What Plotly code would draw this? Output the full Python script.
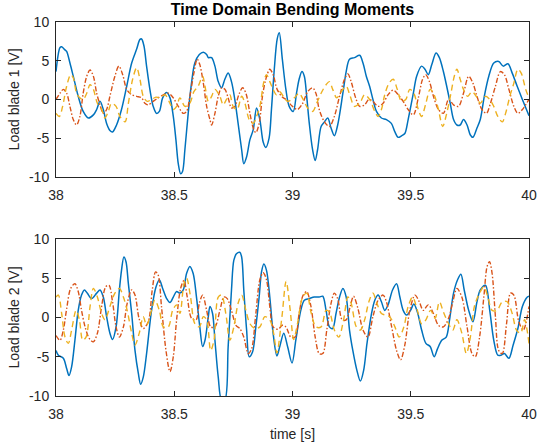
import plotly.graph_objects as go
from plotly.subplots import make_subplots

# ---------------- data ----------------
# Panel 1: load blade 1
t1_blue = [38.000, 38.017, 38.024, 38.038, 38.045, 38.059, 38.073, 38.094, 38.115, 38.137,
           38.158, 38.172, 38.186, 38.200, 38.214, 38.228, 38.239, 38.256, 38.277, 38.299,
           38.320, 38.341, 38.355, 38.362, 38.372, 38.383, 38.397, 38.411, 38.425, 38.437,
           38.451, 38.468, 38.482, 38.496, 38.507, 38.517, 38.527, 38.535, 38.545, 38.559,
           38.573, 38.587, 38.606, 38.623, 38.637, 38.644, 38.658, 38.672, 38.686, 38.700,
           38.714, 38.728, 38.742, 38.756, 38.770, 38.785, 38.794, 38.806, 38.820, 38.834,
           38.848, 38.862, 38.876, 38.887, 38.901, 38.911, 38.923, 38.935, 38.944, 38.957,
           38.972, 38.986, 39.003, 39.017, 39.028, 39.040, 39.050, 39.060, 39.071, 39.085,
           39.096, 39.106, 39.121, 39.135, 39.149, 39.163, 39.177, 39.191, 39.213, 39.227,
           39.241, 39.262, 39.284, 39.298, 39.312, 39.326, 39.340, 39.355, 39.376, 39.397,
           39.418, 39.433, 39.447, 39.461, 39.475, 39.489, 39.511, 39.525, 39.546, 39.560,
           39.574, 39.589, 39.607, 39.621, 39.638, 39.652, 39.667, 39.681, 39.695, 39.709,
           39.723, 39.738, 39.752, 39.763, 39.780, 39.794, 39.811, 39.830, 39.851, 39.872,
           39.891, 39.911, 39.929, 39.950, 39.972, 40.000]
v1_blue = [3.6, 6.7, 6.8, 6.4, 6.2, 4.7, 3.0, 0.4, -1.55, -2.4,
           -2.0, -1.3, -0.25, -1.3, -3.1, -4.0, -4.2, -3.3, -1.3, 1.7,
           4.7, 6.5, 7.75, 7.8, 6.9, 4.3, 1.3, -0.9, -1.8, -1.55,
           0.2, 0.9, 0.2, -2.2, -5.2, -8.3, -9.6, -9.3, -6.5, -1.8,
           2.1, 4.7, 5.8, 6.1, 5.8, 5.4, 5.4, 4.3, 2.3, 1.5,
           2.6, 3.4, 2.3, 0.0, -3.1, -6.5, -8.3, -7.4, -5.2, -3.9,
           -1.1, -2.6, -5.5, -6.2, -5.0, -1.3, 3.9, 7.75, 8.6, 5.2,
           1.3, -0.9, -1.55, 0.8, 2.6, 3.6, 3.0, 0.4, -3.1, -6.5,
           -7.9, -6.5, -3.5, -2.9, -2.4, -3.7, -4.7, -3.3, 0.8, 3.6,
           5.2, 5.4, 5.7, 4.7, 3.0, 1.7, 0.0, -1.55, -2.4, -2.6,
           -3.1, -4.2, -4.9, -4.7, -4.4, -2.6, 0.8, 3.0, 4.3, 3.9,
           3.2, 4.5, 6.0, 5.4, 3.6, 1.7, -0.5, -2.6, -3.3, -3.3,
           -2.6, -3.3, -4.6, -4.9, -3.7, -2.6, 0.4, 3.0, 4.7, 4.9,
           4.3, 4.6, 3.4, 1.7, 0.0, -2.1]

t1_orange = [38.000, 38.017, 38.031, 38.045, 38.059, 38.073, 38.087, 38.101, 38.115, 38.130,
             38.144, 38.158, 38.172, 38.186, 38.200, 38.214, 38.228, 38.249, 38.266, 38.282,
             38.299, 38.320, 38.341, 38.362, 38.376, 38.390, 38.411, 38.432, 38.454, 38.475,
             38.496, 38.517, 38.538, 38.552, 38.566, 38.583, 38.597, 38.608, 38.623, 38.637,
             38.651, 38.658, 38.672, 38.686, 38.700, 38.714, 38.728, 38.742, 38.756, 38.773,
             38.789, 38.803, 38.820, 38.834, 38.845, 38.859, 38.873, 38.887, 38.904, 38.918,
             38.935, 38.957, 38.972, 39.000, 39.021, 39.043, 39.064, 39.085, 39.099, 39.113,
             39.135, 39.156, 39.177, 39.199, 39.220, 39.234, 39.248, 39.267, 39.284, 39.305,
             39.323, 39.340, 39.362, 39.383, 39.404, 39.426, 39.447, 39.468, 39.489, 39.511,
             39.532, 39.550, 39.563, 39.579, 39.596, 39.617, 39.638, 39.660, 39.681, 39.702,
             39.723, 39.745, 39.763, 39.780, 39.801, 39.820, 39.837, 39.858, 39.879, 39.896,
             39.915, 39.936, 39.953, 39.972, 40.000]
v1_orange = [0.0, 0.8, 1.3, 0.8, -0.9, -2.6, -3.3, -2.2, 0.8, 3.0,
             3.8, 3.0, 0.8, -0.7, -1.8, -1.3, 0.4, 3.0, 4.3, 3.2,
             1.3, 0.6, 0.4, 0.2, -0.5, -0.7, -0.25, 0.2, 0.6, 0.8,
             0.2, -0.9, -1.8, -1.55, 0.4, 3.4, 5.2, 4.5, 2.1, -0.9,
             -2.6, -3.3, -1.8, 0.4, 1.5, 1.3, 0.2, -1.1, -0.9, 0.6,
             1.5, 0.8, -1.8, -3.7, -4.3, -3.1, 0.4, 2.6, 3.9, 3.2,
             1.3, 0.3, 0.0, -0.9, -1.3, -0.5, 1.0, 1.5, 0.8, -1.3,
             -2.9, -3.5, -2.2, 0.4, 2.6, 3.3, 2.3, 0.2, -0.9, -0.7,
             0.0, -0.25, -0.9, -0.5, 0.6, 1.2, 0.6, -0.25, -1.3, -2.0,
             0.2, 2.6, 3.2, 2.3, 0.4, -1.3, -1.8, 0.0, -0.7, -0.9,
             0.8, 3.0, 2.1, 0.4, -1.3, -1.8, -0.5, 1.7, 3.6, 3.2,
             1.3, -0.9, -1.8, -1.3, 0.0]

t1_yellow = [38.000, 38.014, 38.028, 38.045, 38.062, 38.073, 38.087, 38.101, 38.115, 38.130,
             38.144, 38.158, 38.175, 38.193, 38.207, 38.221, 38.235, 38.254, 38.270, 38.292,
             38.306, 38.324, 38.341, 38.355, 38.369, 38.386, 38.404, 38.423, 38.439, 38.461,
             38.482, 38.496, 38.510, 38.524, 38.545, 38.566, 38.583, 38.601, 38.620, 38.630,
             38.644, 38.658, 38.672, 38.693, 38.707, 38.721, 38.735, 38.749, 38.766, 38.785,
             38.799, 38.817, 38.834, 38.848, 38.862, 38.879, 38.890, 38.904, 38.918, 38.932,
             38.946, 38.965, 38.979, 39.007, 39.028, 39.045, 39.064, 39.085, 39.102, 39.121,
             39.142, 39.156, 39.170, 39.187, 39.206, 39.227, 39.244, 39.262, 39.284, 39.305,
             39.326, 39.348, 39.362, 39.376, 39.390, 39.408, 39.426, 39.443, 39.461, 39.479,
             39.496, 39.513, 39.532, 39.546, 39.564, 39.582, 39.599, 39.617, 39.635, 39.652,
             39.670, 39.684, 39.695, 39.709, 39.723, 39.740, 39.759, 39.777, 39.794, 39.816,
             39.834, 39.851, 39.868, 39.887, 39.901, 39.919, 39.936, 39.953, 39.967, 39.986,
             40.000]
v1_yellow = [-1.8, -2.2, -0.9, 1.7, 3.2, 2.8, 0.8, 0.2, 0.0, 0.8,
             1.9, 1.3, -0.5, -1.3, -2.4, -1.55, -0.5, -0.9, -2.2, -2.9,
             -0.5, 2.6, 4.1, 2.6, 0.4, -0.25, 0.0, 0.3, 0.2, 0.6,
             -0.5, -1.3, -0.9, 0.2, -0.9, -0.5, 1.0, 1.7, 3.0, 1.7,
             -0.25, 0.4, 1.3, 0.4, -0.7, 0.0, 0.6, -0.9, -1.3, 0.4,
             -0.5, -2.6, -3.1, -2.2, -0.9, 2.3, 3.2, 2.3, 1.3, 0.6,
             1.0, 0.2, -0.25, 0.2, 0.8, 0.0, -1.1, -1.55, -0.5, 0.8,
             1.9, 2.3, 1.3, 0.2, 1.0, 1.7, 0.4, -0.9, -0.5, 0.6,
             0.0, -1.55, -2.2, -1.3, 0.6, 2.1, 2.6, 1.3, -0.25, 0.0,
             1.3, 0.8, -1.3, -2.2, -0.5, 1.3, 0.6, -1.3, -3.5, -1.8,
             0.8, 3.0, 3.9, 2.6, 1.3, 0.4, 1.0, 0.4, -0.5, 0.4,
             0.0, -0.9, -2.2, -2.9, -1.8, 0.4, 2.1, 3.9, 3.4, 1.3,
             0.2]

# Panel 2: load blade 2
t2_blue = [38.000, 38.010, 38.031, 38.045, 38.055, 38.066, 38.080, 38.094, 38.108, 38.120,
           38.132, 38.151, 38.172, 38.186, 38.200, 38.214, 38.228, 38.239, 38.254, 38.268,
           38.277, 38.287, 38.296, 38.306, 38.320, 38.334, 38.348, 38.358, 38.369, 38.383,
           38.404, 38.423, 38.437, 38.451, 38.468, 38.482, 38.496, 38.510, 38.524, 38.538,
           38.552, 38.566, 38.580, 38.594, 38.608, 38.620, 38.630, 38.644, 38.651, 38.662,
           38.672, 38.686, 38.700, 38.714, 38.728, 38.742, 38.752, 38.763, 38.777, 38.785,
           38.794, 38.806, 38.817, 38.831, 38.845, 38.859, 38.869, 38.879, 38.890, 38.904,
           38.918, 38.934, 38.947, 38.963, 38.980, 38.998, 39.014, 39.035, 39.050, 39.071,
           39.092, 39.113, 39.128, 39.142, 39.156, 39.170, 39.184, 39.199, 39.213, 39.227,
           39.241, 39.255, 39.272, 39.287, 39.301, 39.315, 39.333, 39.348, 39.362, 39.376,
           39.390, 39.404, 39.423, 39.440, 39.454, 39.468, 39.482, 39.499, 39.513, 39.528,
           39.546, 39.564, 39.582, 39.599, 39.613, 39.631, 39.650, 39.664, 39.681, 39.698,
           39.712, 39.726, 39.745, 39.763, 39.780, 39.794, 39.816, 39.834, 39.851, 39.868,
           39.882, 39.896, 39.915, 39.933, 39.953, 39.972, 39.993, 40.000]
v2_blue = [-4.2, -4.8, -5.2, -6.5, -7.4, -6.3, -2.9, 0.9, 2.85, 3.5,
           3.1, 2.4, 3.1, 3.5, 2.6, 0.1, -2.0, -2.8, -1.2, 3.5,
           6.0, 7.7, 7.1, 4.3, 0.5, -4.2, -7.1, -8.5, -7.6, -4.6,
           0.9, 3.9, 4.8, 3.7, 2.4, 1.9, 2.6, 3.3, 3.1, 3.5,
           5.6, 6.5, 5.6, 2.6, -1.2, -3.7, -2.9, 0.1, 1.4, 0.5,
           -2.9, -7.6, -10.5, -10.5, -3.7, 3.5, 7.3, 8.1, 8.3, 7.7,
           3.5, -1.6, -5.0, -4.4, -1.2, 2.6, 5.8, 6.8, 6.0, 2.6,
           -2.0, -4.9, -3.6, -2.0, -3.8, -5.8, -2.9, 0.9, 2.2, 2.4,
           2.6, 2.6, 2.7, 0.9, -1.2, -1.4, 0.5, 2.6, 3.7, 2.6,
           -1.6, -4.2, -6.7, -8.1, -6.7, -3.3, 0.3, 2.2, 2.85, 2.0,
           0.9, 1.6, 3.5, 4.3, 2.6, 0.9, 0.3, 0.9, 1.7, 0.7,
           -1.6, -3.3, -3.7, -5.0, -4.0, -2.9, -2.5, -0.3, 3.1, 4.8,
           5.5, 3.5, 0.9, -0.55, 2.0, 3.5, 4.1, 0.9, -2.9, -4.8,
           -4.8, -4.6, -5.2, -3.5, -1.4, 1.4, 2.6, 2.7]

t2_orange = [38.000, 38.017, 38.031, 38.045, 38.062, 38.080, 38.094, 38.108, 38.123, 38.141,
             38.158, 38.175, 38.193, 38.210, 38.224, 38.239, 38.254, 38.268, 38.285, 38.301,
             38.320, 38.334, 38.351, 38.369, 38.390, 38.407, 38.421, 38.432, 38.446, 38.465,
             38.482, 38.496, 38.510, 38.527, 38.541, 38.555, 38.573, 38.592, 38.606, 38.620,
             38.637, 38.654, 38.672, 38.693, 38.710, 38.724, 38.742, 38.761, 38.777, 38.794,
             38.813, 38.827, 38.845, 38.862, 38.876, 38.890, 38.904, 38.918, 38.939, 38.957,
             38.972, 38.993, 39.011, 39.028, 39.045, 39.060, 39.078, 39.096, 39.113, 39.128,
             39.145, 39.163, 39.177, 39.191, 39.210, 39.227, 39.244, 39.258, 39.277, 39.298,
             39.319, 39.340, 39.362, 39.383, 39.397, 39.418, 39.440, 39.457, 39.475, 39.496,
             39.518, 39.536, 39.553, 39.574, 39.596, 39.617, 39.638, 39.660, 39.678, 39.695,
             39.716, 39.738, 39.759, 39.773, 39.791, 39.809, 39.823, 39.833, 39.844, 39.858,
             39.872, 39.887, 39.905, 39.922, 39.936, 39.957, 39.976, 40.000]
v2_orange = [-2.3, -2.9, -1.6, 1.1, 3.7, 4.3, 3.3, 0.9, -1.2, -2.7,
             -3.1, -2.0, 1.4, 3.9, 4.1, 2.0, -1.2, -2.5, -1.2, 1.8,
             3.5, 2.85, -0.1, -1.4, -0.55, 3.5, 5.8, 5.4, 1.4, -4.2,
             -6.9, -5.0, -0.3, 3.7, 4.7, 2.6, -0.1, -0.3, 1.8, 2.85,
             0.9, -1.2, -1.2, 0.9, 2.6, 2.4, 0.9, -1.0, -1.4, -2.5,
             -4.6, -4.0, 0.5, 4.8, 5.7, 4.8, 1.4, -1.2, -1.5, -1.0,
             -1.2, -2.5, -2.5, 0.5, 2.85, 3.3, 1.4, -2.5, -4.6, -4.6,
             -1.6, 1.8, 3.1, 2.4, -0.3, -0.3, 1.4, 2.7, 1.1, -1.6,
             -2.5, 0.1, 2.2, 2.85, 2.0, -1.0, -4.2, -5.4, -3.5, 0.9,
             2.85, 2.0, 0.9, 1.6, 0.5, -1.0, -1.2, -0.1, 2.0, 3.7,
             2.6, -1.2, -4.6, -5.0, -2.5, 2.6, 6.5, 7.1, 5.6, 0.1,
             -4.2, -4.6, -0.8, 3.1, 2.85, -0.55, -1.6, 1.4]

t2_yellow = [38.000, 38.010, 38.024, 38.038, 38.052, 38.066, 38.085, 38.099, 38.113, 38.127,
             38.144, 38.158, 38.175, 38.193, 38.207, 38.228, 38.249, 38.268, 38.285, 38.301,
             38.320, 38.334, 38.352, 38.369, 38.383, 38.404, 38.418, 38.437, 38.454, 38.475,
             38.493, 38.510, 38.524, 38.541, 38.552, 38.569, 38.587, 38.606, 38.623, 38.637,
             38.654, 38.668, 38.686, 38.700, 38.718, 38.735, 38.752, 38.770, 38.785, 38.803,
             38.820, 38.841, 38.862, 38.883, 38.904, 38.920, 38.934, 38.955, 38.973, 38.990,
             39.005, 39.021, 39.043, 39.060, 39.078, 39.099, 39.121, 39.142, 39.156, 39.177,
             39.196, 39.216, 39.234, 39.248, 39.270, 39.287, 39.305, 39.323, 39.340, 39.357,
             39.376, 39.394, 39.411, 39.433, 39.451, 39.471, 39.489, 39.508, 39.528, 39.546,
             39.564, 39.584, 39.603, 39.621, 39.638, 39.660, 39.678, 39.695, 39.716, 39.735,
             39.752, 39.769, 39.787, 39.809, 39.826, 39.844, 39.865, 39.887, 39.908, 39.929,
             39.947, 39.965, 39.981, 40.000]
v2_yellow = [2.6, 2.85, 0.5, -2.5, -3.3, -1.6, 0.9, -0.3, -2.9, -2.5,
             1.4, 3.7, 2.6, 0.5, -0.3, 1.4, 3.1, 3.7, 2.6, 0.9,
             -2.0, -3.5, -2.0, 0.1, -1.0, 0.9, 2.2, 0.9, -1.2, -1.2,
             0.9, 1.6, 0.5, 4.3, 5.0, 2.6, -0.8, -1.2, 0.1, -0.3,
             -4.2, -2.9, 2.6, 2.85, 0.5, -2.9, -1.2, 1.8, 2.85, 0.9,
             -0.8, -1.4, -1.2, 0.1, -0.3, -2.0, -4.5, 0.0, 4.6, 1.0,
             -2.8, -0.8, 2.6, 3.1, 0.7, -1.2, -1.2, 0.9, 0.7, -1.6,
             -2.5, -0.3, 2.6, 1.8, -1.2, -1.6, -0.3, 2.0, 3.1, 1.8,
             0.5, 0.3, 0.1, -1.2, -2.5, -1.2, 1.4, 2.6, 0.9, -0.8,
             -0.3, 0.9, -0.1, 2.0, 0.7, -0.8, -1.6, -0.3, -2.0, -4.6,
             -2.5, 1.4, 2.85, 3.9, 2.6, 0.9, 0.9, 2.0, 2.0, 0.5,
             -1.6, -2.0, -0.3, -3.3]

x_ticks = [38, 38.5, 39, 39.5, 40]
x_tick_text = ["38", "38.5", "39", "39.5", "40"]
y_ticks = [-10, -5, 0, 5, 10]
y_tick_text = ["-10", "-5", "0", "5", "10"]

title_text = "Time Domain Bending Moments"
ylabels = ["Load blade 1 [V]", "Load blade 2 [V]"]
xlabel = "time [s]"

# ---------------- styling ----------------
BLUE = "#0072BD"
ORANGE = "#D95319"
YELLOW = "#EDB120"
AX = "#262626"
FONT = "Liberation Sans, Arial, Helvetica, sans-serif"

fig = make_subplots(rows=2, cols=1, shared_xaxes=False, vertical_spacing=0.1)

panels = [
    (1, t1_blue, v1_blue, t1_orange, v1_orange, t1_yellow, v1_yellow),
    (2, t2_blue, v2_blue, t2_orange, v2_orange, t2_yellow, v2_yellow),
]
for row, tb, vb, to, vo, ty, vy in panels:
    fig.add_trace(go.Scatter(x=tb, y=vb, mode="lines",
                             line=dict(color=BLUE, width=1.5, shape="spline", smoothing=0.9),
                             showlegend=False, hoverinfo="skip"), row=row, col=1)
    fig.add_trace(go.Scatter(x=to, y=vo, mode="lines",
                             line=dict(color=ORANGE, width=1.4, shape="spline", smoothing=0.9,
                                       dash="5px,2px,1.5px,2px"),
                             showlegend=False, hoverinfo="skip"), row=row, col=1)
    fig.add_trace(go.Scatter(x=ty, y=vy, mode="lines",
                             line=dict(color=YELLOW, width=1.4, shape="spline", smoothing=0.9,
                                       dash="6px,4px"),
                             showlegend=False, hoverinfo="skip"), row=row, col=1)

axis_common = dict(showline=True, linecolor=AX, linewidth=1, mirror="ticks",
                   ticks="inside", ticklen=5, tickcolor=AX, tickwidth=1,
                   showgrid=False, zeroline=False, automargin=False,
                   tickfont=dict(family=FONT, size=14, color=AX))

for row in (1, 2):
    fig.update_xaxes(range=[38, 40], tickvals=x_ticks, ticktext=x_tick_text,
                     ticklabelstandoff=5, row=row, col=1, **axis_common)
    fig.update_yaxes(range=[-10, 10], tickvals=y_ticks, ticktext=y_tick_text,
                     ticklabelstandoff=3,
                     title=dict(text=ylabels[row - 1], font=dict(family=FONT, size=14, color=AX),
                                standoff=6),
                     row=row, col=1, **axis_common)

fig.update_xaxes(title=dict(text=xlabel, font=dict(family=FONT, size=14, color=AX), standoff=8),
                 row=2, col=1)

fig.update_layout(
    width=538, height=446,
    margin=dict(l=56, r=9, t=22, b=50, autoexpand=False),
    paper_bgcolor="white", plot_bgcolor="white",
    title=dict(text="<b>" + title_text + "</b>", xref="paper", x=0.5, xanchor="center",
               yref="container", y=0.98, yanchor="middle",
               font=dict(family=FONT, size=16, color="black")),
    xaxis=dict(domain=[0, 1]),
    yaxis=dict(domain=[0.586, 1.0]),
    yaxis2=dict(domain=[0.0, 0.42]),
    hovermode=False,
)

# the page's default 8px body margin would shift the whole figure
fig.write_html("out.html", config={"displayModeBar": False, "staticPlot": True},
               post_script="document.body.style.margin='0px';")
